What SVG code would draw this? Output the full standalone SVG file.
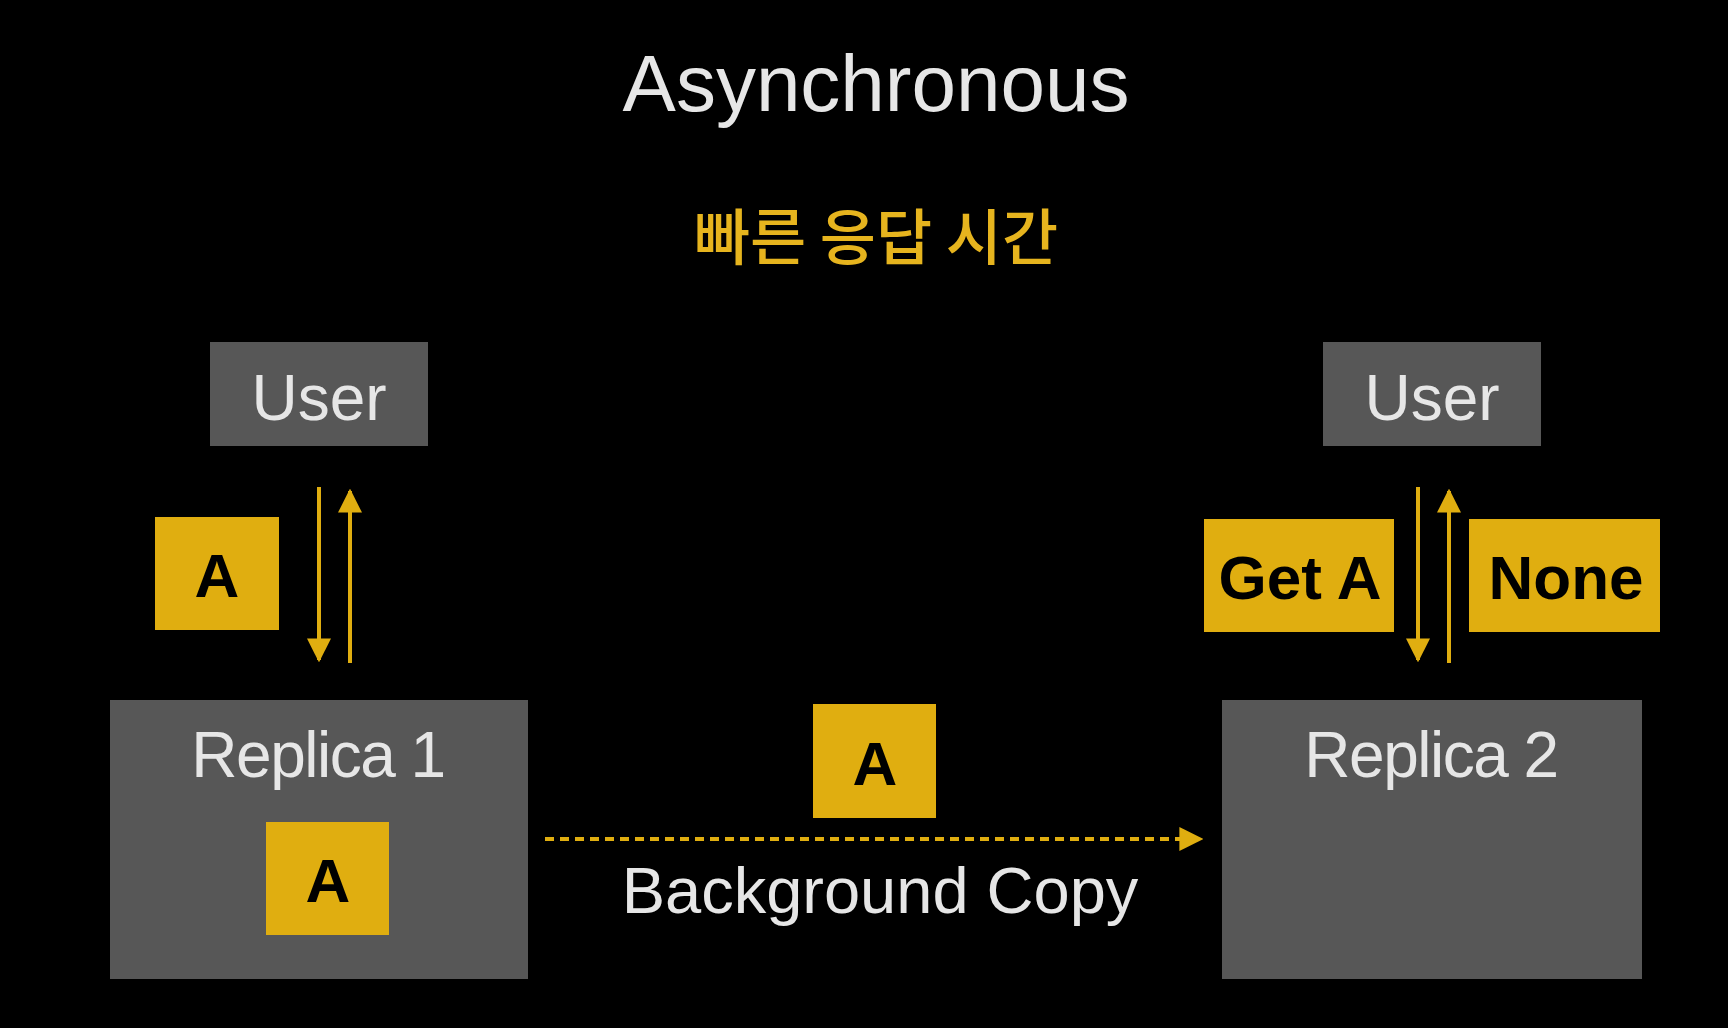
<svg xmlns="http://www.w3.org/2000/svg" width="1728" height="1028" viewBox="0 0 1728 1028">
<style>
.gbox{fill:#575757}
.ybox{fill:#E0AE10}
.wt{fill:#E6E6E6;font-family:"Liberation Sans",Arial,sans-serif;text-anchor:middle}
.bt{fill:#000;font-family:"Liberation Sans",Arial,sans-serif;font-weight:bold;text-anchor:middle;font-size:62px}
.ar{stroke:#E0AE10;stroke-width:4;fill:none}
</style>
<defs>
<marker id="ah" viewBox="0 0 10 10" refX="9" refY="5" markerWidth="6" markerHeight="6" markerUnits="strokeWidth" orient="auto">
<path d="M0,0 L10,5 L0,10 Z" fill="#E0AE10"/>
</marker>
</defs>
<rect width="1728" height="1028" fill="#000"/>
<text id="title" class="wt" x="876" y="111" font-size="80">Asynchronous</text>
<text id="subtitle" x="876" y="260" font-size="61" font-weight="500" fill="#E6B41E" text-anchor="middle" font-family="'Noto Sans CJK KR',sans-serif">빠른 응답 시간</text>
<g id="user1"><rect class="gbox" x="210" y="342" width="218" height="104"/><text class="wt" x="319" y="420" font-size="64">User</text></g>
<g id="user2"><rect class="gbox" x="1323" y="342" width="218" height="104"/><text class="wt" x="1432" y="420" font-size="64">User</text></g>
<g id="labelA1"><rect class="ybox" x="155" y="517" width="124" height="113"/><text class="bt" x="217" y="597">A</text></g>
<g id="getA"><rect class="ybox" x="1204" y="519" width="190" height="113"/><text class="bt" x="1300" y="599">Get A</text></g>
<g id="none"><rect class="ybox" x="1469" y="519" width="191" height="113"/><text class="bt" x="1566" y="599">None</text></g>
<g id="replica1"><rect class="gbox" x="110" y="700" width="418" height="279"/><text class="wt" x="318" y="777" font-size="64" letter-spacing="-1.5">Replica 1</text>
<rect class="ybox" x="266" y="822" width="123" height="113"/><text class="bt" x="328" y="902">A</text></g>
<g id="replica2"><rect class="gbox" x="1222" y="700" width="420" height="279"/><text class="wt" x="1431" y="777" font-size="64" letter-spacing="-1.5">Replica 2</text></g>
<g id="msgA"><rect class="ybox" x="813" y="704" width="123" height="114"/><text class="bt" x="875" y="785">A</text></g>
<g id="connectors">
<line class="ar" x1="319" y1="487" x2="319" y2="660" marker-end="url(#ah)"/>
<line class="ar" x1="350" y1="663" x2="350" y2="491" marker-end="url(#ah)"/>
<line class="ar" x1="1418" y1="487" x2="1418" y2="660" marker-end="url(#ah)"/>
<line class="ar" x1="1449" y1="663" x2="1449" y2="491" marker-end="url(#ah)"/>
<line class="ar" x1="545" y1="839" x2="1201" y2="839" stroke-dasharray="9 6" marker-end="url(#ah)"/>
</g>
<text id="bgcopy" class="wt" x="880" y="913" font-size="65">Background Copy</text>
</svg>
